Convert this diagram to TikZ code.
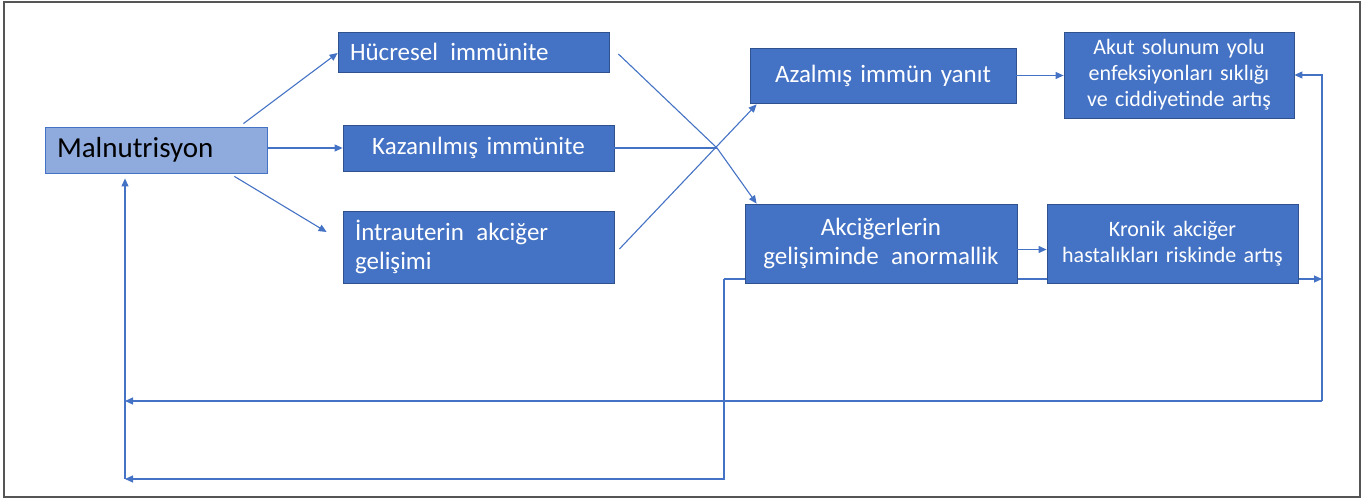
\documentclass[tikz,border=0pt]{standalone}
\usepackage{fontspec}
\setmainfont{Carlito}
\usetikzlibrary{arrows.meta,calc}
\definecolor{boxblue}{RGB}{68,114,196}
\definecolor{boxedge}{RGB}{47,82,143}
\definecolor{lightblue}{RGB}{143,170,220}
\definecolor{linecol}{RGB}{68,114,196}
\definecolor{framegray}{RGB}{85,85,85}
\begin{document}
\begin{tikzpicture}[x=1pt,y=-1pt,
 box/.style={draw=boxedge, line width=0.8pt, fill=boxblue, text=white, inner xsep=12pt, inner ysep=0pt, anchor=center, font=\fontsize{25}{29}\selectfont},
 smallbox/.style={box, font=\fontsize{22}{26}\selectfont},
 arr/.style={draw=linecol, line width=1.1pt, -{Triangle[length=8pt,width=7pt]}},
 ln/.style={draw=linecol, line width=1.1pt},
]
\useasboundingbox (0,0) rectangle (1363,500);
\draw[framegray, line width=1.6pt] (4,2) rectangle (1360,497);

\coordinate (cx) at (717,148);
\coordinate (j1) at (724,279);
\coordinate (r1) at (1322,279);
\coordinate (r2) at (1322,401);
\coordinate (l2) at (125,401);
\coordinate (l3) at (125,479);

\draw[arr] (j1) -- (r1);

\node[box, fill=lightblue, draw=boxblue, text=black, text width=198pt, minimum height=46pt, align=left, font=\fontsize{29}{33}\selectfont] (mal) at (156,150) {Malnutrisyon};
\node[box, text width=247pt, minimum height=40pt, align=left] (huc) at (473.5,52) {Hücresel\hspace{4pt} immünite};
\node[box, text width=247pt, minimum height=46pt, align=center] (kaz) at (478.5,148) {Kazanılmış immünite};
\node[box, text width=247pt, minimum height=72pt, align=left] (intra) at (478.5,247) {İntrauterin\hspace{4pt} akciğer\\gelişimi};
\node[box, text width=242pt, minimum height=55pt, align=center] (aza) at (883,75.5) {Azalmış immün yanıt};
\node[smallbox, text width=206pt, minimum height=86pt, align=center] (akut) at (1179,75) {Akut solunum yolu\\enfeksiyonları sıklığı\\ve ciddiyetinde artış};
\node[box, text width=248pt, minimum height=79pt, align=center] (akc) at (881,243.5) {Akciğerlerin\\gelişiminde\hspace{4pt} anormallik};
\node[smallbox, text width=227pt, minimum height=79pt, align=center] (kron) at (1172.5,243.5) {Kronik akciğer\\hastalıkları riskinde artış};

\draw[arr] ([xshift=-24pt,yshift=3pt]mal.north east) -- ([yshift=-1pt]huc.west);
\draw[arr] (mal.east |- kaz.west) -- (kaz.west);
\draw[arr] ([xshift=-33pt,yshift=-3pt]mal.south east) -- ([xshift=-16pt,yshift=15pt]intra.west);
\draw[arr] ([xshift=9pt,yshift=-2pt]huc.east) -- (cx) -- ([xshift=12pt]akc.north west);
\draw[ln] (kaz.east) -- (cx);
\draw[arr] ([xshift=5pt,yshift=-2pt]intra.east) -- ([xshift=7pt,yshift=-1pt]aza.south west);
\draw[arr] (aza.east) -- (akut.west |- aza.east);
\draw[arr] ([yshift=-6pt]akc.east) -- ([yshift=-6pt]akc.east -| kron.west);

\draw[arr] (r2) -- (r2 |- akut.east) -- (akut.east);
\draw[arr] (r2) -- (l2);
\draw[arr] (j1) -- (j1 |- l3) -- (l3);
\draw[arr] (l3) -- ([yshift=-5pt]mal.south -| l3);
\end{tikzpicture}
\end{document}
